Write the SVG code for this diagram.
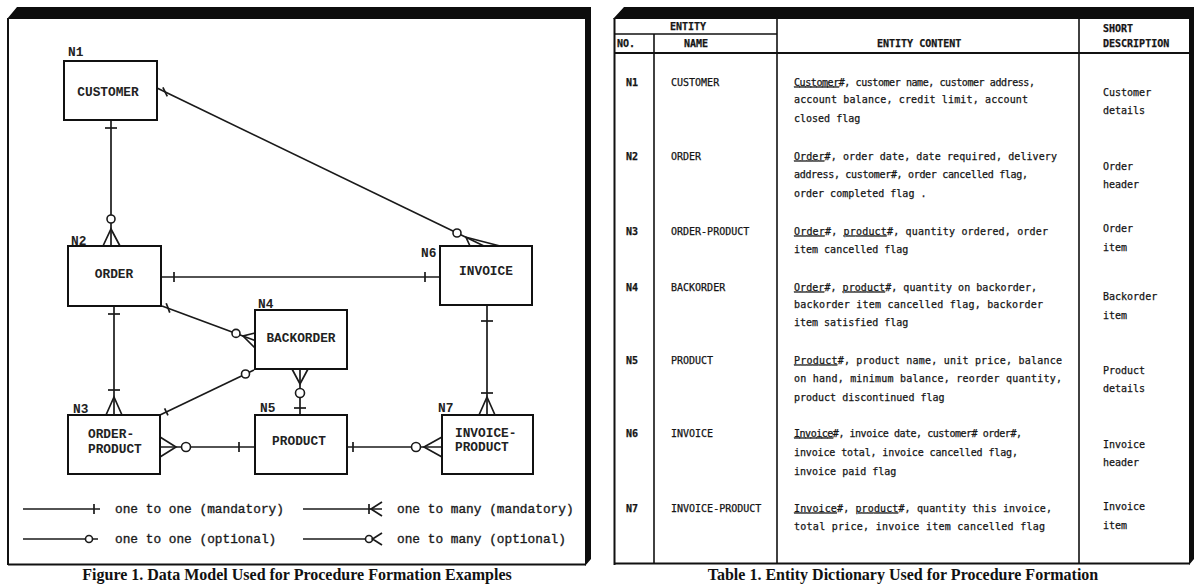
<svg xmlns="http://www.w3.org/2000/svg" width="1195" height="584" viewBox="0 0 1195 584">
<style>
  .frame{fill:#0d0d0d}
  .rule{stroke:#111;stroke-width:2;fill:none}
  .box{fill:#fff;stroke:#111;stroke-width:2}
  .lbl{font-family:"Liberation Mono","DejaVu Sans Mono",monospace;font-weight:bold;font-size:12.8px;fill:#222}
  .mid{text-anchor:middle}
  .conn line,.conn path{stroke:#1a1a1a;stroke-width:1.7;fill:none}
  .conn circle{fill:#fff;stroke:#1a1a1a;stroke-width:1.6}
  .leg{font-family:"Liberation Mono","DejaVu Sans Mono",monospace;font-size:12.8px;fill:#1a1a1a;stroke:#1a1a1a;stroke-width:0.35}
  .cap{font-family:"Liberation Serif","DejaVu Serif",serif;font-weight:bold;font-size:16px;fill:#111;text-anchor:middle}
  .tt{font-family:"DejaVu Sans Mono","Liberation Mono",monospace;font-size:10px;fill:#151515;stroke:#151515;stroke-width:0.25}
  .th{font-weight:bold}
  .u{text-decoration:underline}
  .grid{stroke:#111;stroke-width:1.6}
</style>

<!-- ===== Figure 1: data model ===== -->
<g id="figure-frame">
  <polygon class="frame" points="7,19 17,7 591,7 591,559 585,566 585,19"/>
  <line class="rule" x1="8" y1="18" x2="8" y2="565"/>
  <line class="rule" x1="8" y1="564.5" x2="586" y2="564.5" stroke-width="3"/>
</g>

<g id="connectors" class="conn">
  <!-- CUSTOMER - ORDER -->
  <g id="c-customer-order">
    <line x1="111" y1="120" x2="111" y2="246"/>
    <line x1="105" y1="128" x2="117" y2="128"/>
    <circle cx="111" cy="219" r="4"/>
    <path d="M103,246 L111,229 L120,246"/>
  </g>
  <!-- CUSTOMER - INVOICE -->
  <g id="c-customer-invoice">
    <line x1="157" y1="88" x2="484" y2="246"/>
    <line x1="162.9" y1="87.4" x2="167.3" y2="96.4"/>
    <circle cx="457" cy="233" r="4"/>
    <path d="M470,246 L466,237.3 L500,246"/>
  </g>
  <!-- ORDER - INVOICE -->
  <g id="c-order-invoice">
    <line x1="161" y1="277" x2="440" y2="277"/>
    <line x1="174" y1="272" x2="174" y2="282"/>
    <line x1="425" y1="272" x2="425" y2="282"/>
  </g>
  <!-- ORDER - BACKORDER -->
  <g id="c-order-backorder">
    <line x1="162" y1="306" x2="255" y2="340.5"/>
    <line x1="166.2" y1="303.2" x2="169.8" y2="312.6"/>
    <circle cx="236" cy="333.4" r="4"/>
    <path d="M255,333 L243,336 L255,348"/>
  </g>
  <!-- BACKORDER - ORDER-PRODUCT -->
  <g id="c-backorder-orderproduct">
    <line x1="254" y1="370" x2="160" y2="415"/>
    <circle cx="245.5" cy="374" r="4"/>
    <line x1="164.6" y1="408.4" x2="168" y2="415.4"/>
  </g>
  <!-- ORDER - ORDER-PRODUCT -->
  <g id="c-order-orderproduct">
    <line x1="114" y1="306" x2="114" y2="415"/>
    <line x1="108" y1="314" x2="120" y2="314"/>
    <line x1="108" y1="390" x2="120" y2="390"/>
    <path d="M106,415 L114,397 L122,415"/>
  </g>
  <!-- ORDER-PRODUCT - PRODUCT -->
  <g id="c-orderproduct-product">
    <line x1="160" y1="447" x2="255" y2="447"/>
    <path d="M160,437 L176,447 L160,457"/>
    <circle cx="186" cy="447" r="4.5"/>
    <line x1="239" y1="442" x2="239" y2="452"/>
  </g>
  <!-- PRODUCT - INVOICE-PRODUCT -->
  <g id="c-product-invoiceproduct">
    <line x1="347" y1="447" x2="442" y2="447"/>
    <line x1="353" y1="442" x2="353" y2="452"/>
    <circle cx="416" cy="447" r="4.5"/>
    <path d="M442,437 L424,447 L442,457"/>
  </g>
  <!-- BACKORDER - PRODUCT -->
  <g id="c-backorder-product">
    <line x1="300" y1="369" x2="300" y2="415"/>
    <path d="M292,369 L300,384 L308,369"/>
    <circle cx="300" cy="393" r="4.5"/>
    <line x1="294" y1="408" x2="306" y2="408"/>
  </g>
  <!-- INVOICE - INVOICE-PRODUCT -->
  <g id="c-invoice-invoiceproduct">
    <line x1="487" y1="305" x2="487" y2="415"/>
    <line x1="481" y1="321" x2="493" y2="321"/>
    <line x1="481" y1="393" x2="493" y2="393"/>
    <path d="M479,415 L487,397 L495,415"/>
  </g>
</g>

<g id="n1">
  <rect class="box" x="64" y="61" width="93" height="59"/>
  <text class="lbl" x="68" y="56">N1</text>
  <text class="lbl mid" x="108" y="95.5">CUSTOMER</text>
</g>
<g id="n2">
  <rect class="box" x="68" y="246" width="93" height="60"/>
  <text class="lbl" x="71" y="245">N2</text>
  <text class="lbl mid" x="114" y="277.5">ORDER</text>
</g>
<g id="n3">
  <rect class="box" x="68" y="415" width="92" height="59"/>
  <text class="lbl" x="73" y="413">N3</text>
  <text class="lbl" x="88" y="437.5">ORDER-</text>
  <text class="lbl" x="88" y="452.5">PRODUCT</text>
</g>
<g id="n4">
  <rect class="box" x="255" y="310" width="92" height="59"/>
  <text class="lbl" x="258" y="308">N4</text>
  <text class="lbl mid" x="301" y="341.5">BACKORDER</text>
</g>
<g id="n5">
  <rect class="box" x="255" y="415" width="92" height="59"/>
  <text class="lbl" x="260" y="412">N5</text>
  <text class="lbl mid" x="299" y="444.5">PRODUCT</text>
</g>
<g id="n6">
  <rect class="box" x="440" y="246" width="92" height="59"/>
  <text class="lbl" x="421" y="256.5">N6</text>
  <text class="lbl mid" x="486" y="274.5">INVOICE</text>
</g>
<g id="n7">
  <rect class="box" x="442" y="415" width="91" height="59"/>
  <text class="lbl" x="438" y="411.5">N7</text>
  <text class="lbl" x="455" y="436.5">INVOICE-</text>
  <text class="lbl" x="455" y="450.5">PRODUCT</text>
</g>

<g id="legend" class="conn">
  <line x1="23" y1="509" x2="100" y2="509"/>
  <line x1="94" y1="504" x2="94" y2="514"/>
  <text class="leg" x="115" y="513">one to one (mandatory)</text>

  <line x1="303" y1="509" x2="382" y2="509"/>
  <line x1="369" y1="504" x2="369" y2="514"/>
  <path d="M382,502 L371,509 L382,516"/>
  <text class="leg" x="397" y="513">one to many (mandatory)</text>

  <line x1="23" y1="539" x2="98" y2="539"/>
  <circle cx="89" cy="539" r="3.5"/>
  <text class="leg" x="115" y="543">one to one (optional)</text>

  <line x1="303" y1="539" x2="366" y2="539"/>
  <circle cx="369" cy="539" r="3.5"/>
  <path d="M382,533 L372.5,539 L382,545"/>
  <text class="leg" x="397" y="543">one to many (optional)</text>
</g>

<text id="figure-caption" class="cap" x="297" y="580">Figure 1. Data Model Used for Procedure Formation Examples</text>

<!-- ===== Table 1: entity dictionary ===== -->
<g id="entity-table">
  <polygon class="frame" points="613,19 624,7 1194,7 1194,559 1189,565 1189,19"/>
  <line class="rule" x1="614.5" y1="18" x2="614.5" y2="565"/>
  <line class="rule" x1="614" y1="563.5" x2="1190" y2="563.5" stroke-width="3"/>

  <g id="table-grid" class="grid">
    <line x1="614" y1="34" x2="777" y2="34"/>
    <line x1="614" y1="53" x2="1189" y2="53" stroke-width="2"/>
    <line x1="654" y1="34" x2="654" y2="563"/>
    <line x1="777" y1="18" x2="777" y2="563"/>
    <line x1="1079" y1="18" x2="1079" y2="563"/>
  </g>

  <g id="table-header" class="tt th">
    <text class="mid" x="688" y="30">ENTITY</text>
    <text x="617" y="47">NO.</text>
    <text x="684" y="47">NAME</text>
    <text x="877" y="47">ENTITY CONTENT</text>
    <text x="1103" y="32">SHORT</text>
    <text x="1103" y="47">DESCRIPTION</text>
  </g>

  <g id="row-n1" class="tt">
    <text class="th" x="626" y="85.5">N1</text>
    <text x="671" y="85.5">CUSTOMER</text>
    <text x="794" y="85.5" textLength="241" lengthAdjust="spacing"><tspan class="u">Customer</tspan>#, customer name, customer address,</text>
    <text x="794" y="103" textLength="234" lengthAdjust="spacing">account balance, credit limit, account</text>
    <text x="794" y="121.5">closed flag</text>
    <text x="1103" y="95.5">Customer</text>
    <text x="1103" y="113.5">details</text>
  </g>
  <g id="row-n2" class="tt">
    <text class="th" x="626" y="159.5">N2</text>
    <text x="671" y="159.5">ORDER</text>
    <text x="794" y="159.5" textLength="263" lengthAdjust="spacing"><tspan class="u">Order</tspan>#, order date, date required, delivery</text>
    <text x="794" y="178" textLength="234" lengthAdjust="spacing">address, customer#, order cancelled flag,</text>
    <text x="794" y="196.5">order completed flag .</text>
    <text x="1103" y="169.5">Order</text>
    <text x="1103" y="187.5">header</text>
  </g>
  <g id="row-n3" class="tt">
    <text class="th" x="626" y="234.5">N3</text>
    <text x="671" y="234.5">ORDER-PRODUCT</text>
    <text x="794" y="234.5" textLength="254" lengthAdjust="spacing"><tspan class="u">Order</tspan>#, <tspan class="u">product</tspan>#, quantity ordered, order</text>
    <text x="794" y="252.5">item cancelled flag</text>
    <text x="1103" y="231.5">Order</text>
    <text x="1103" y="250.5">item</text>
  </g>
  <g id="row-n4" class="tt">
    <text class="th" x="626" y="290.5">N4</text>
    <text x="671" y="290.5">BACKORDER</text>
    <text x="794" y="290.5" textLength="243" lengthAdjust="spacing"><tspan class="u">Order</tspan>#, <tspan class="u">product</tspan>#, quantity on backorder,</text>
    <text x="794" y="307.5" textLength="249" lengthAdjust="spacing">backorder item cancelled flag, backorder</text>
    <text x="794" y="325.5">item satisfied flag</text>
    <text x="1103" y="299.5">Backorder</text>
    <text x="1103" y="318.5">item</text>
  </g>
  <g id="row-n5" class="tt">
    <text class="th" x="626" y="363.5">N5</text>
    <text x="671" y="363.5">PRODUCT</text>
    <text x="794" y="363.5" textLength="268" lengthAdjust="spacing"><tspan class="u">Product</tspan>#, product name, unit price, balance</text>
    <text x="794" y="381.5" textLength="268" lengthAdjust="spacing">on hand, minimum balance, reorder quantity,</text>
    <text x="794" y="400.5">product discontinued flag</text>
    <text x="1103" y="373.5">Product</text>
    <text x="1103" y="391.5">details</text>
  </g>
  <g id="row-n6" class="tt">
    <text class="th" x="626" y="436.5">N6</text>
    <text x="671" y="436.5">INVOICE</text>
    <text x="794" y="436.5" textLength="228" lengthAdjust="spacing"><tspan class="u">Invoice</tspan>#, invoice date, customer# order#,</text>
    <text x="794" y="455.5" textLength="224" lengthAdjust="spacing">invoice total, invoice cancelled flag,</text>
    <text x="794" y="474.5">invoice paid flag</text>
    <text x="1103" y="447.5">Invoice</text>
    <text x="1103" y="465.5">header</text>
  </g>
  <g id="row-n7" class="tt">
    <text class="th" x="626" y="511.5">N7</text>
    <text x="671" y="511.5">INVOICE-PRODUCT</text>
    <text x="794" y="511.5" textLength="258" lengthAdjust="spacing"><tspan class="u">Invoice</tspan>#, <tspan class="u">product</tspan>#, quantity this invoice,</text>
    <text x="794" y="529.5" textLength="251" lengthAdjust="spacing">total price, invoice item cancelled flag</text>
    <text x="1103" y="509.5">Invoice</text>
    <text x="1103" y="528.5">item</text>
  </g>
</g>

<text id="table-caption" class="cap" x="903" y="580">Table 1. Entity Dictionary Used for Procedure Formation</text>
</svg>
